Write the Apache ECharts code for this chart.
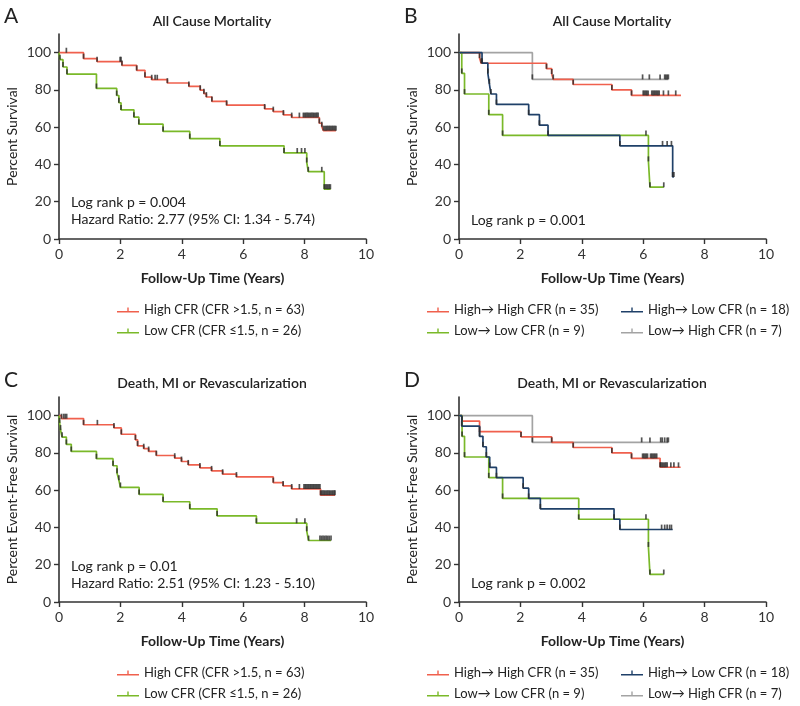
<!DOCTYPE html>
<html><head><meta charset="utf-8">
<script src="https://cdn.jsdelivr.net/npm/echarts@6/dist/echarts.min.js"></script>
<style>html,body{margin:0;padding:0;background:#fff}#c{width:800px;height:706px}</style>
</head><body><div id="c"></div>
<script>
// ---------- DATA ----------
const xTicks = [0, 2, 4, 6, 8, 10];
const yTicks = [0, 20, 40, 60, 80, 100];

const nameHigh = 'High CFR (CFR >1.5, n = 63)';
const nameLow = 'Low CFR (CFR \u22641.5, n = 26)';
const nameHH = 'High\u2192 High CFR (n = 35)';
const nameHL = 'High\u2192 Low CFR (n = 18)';
const nameLL = 'Low\u2192 Low CFR (n = 9)';
const nameLH = 'Low\u2192 High CFR (n = 7)';

// Panel A
const aHighT = [0, 0.80, 1.24, 2.05, 2.53, 2.80, 3.02, 3.53, 4.23, 4.60, 4.72, 4.80, 4.98, 5.46, 6.70, 6.98, 7.31, 7.58, 8.48, 8.56, 8.61, 9.02];
const aHighS = [100, 96.8, 95.2, 93.2, 90.5, 86.9, 85.5, 83.7, 81.9, 79.9, 78.0, 76.2, 73.8, 71.8, 69.8, 68.4, 66.6, 65.2, 62.1, 60.3, 58.2, 58.2];
const aHighC = [0.24, 1.99, 2.02, 3.13, 3.20, 7.83, 7.96, 8.00, 8.04, 8.08, 8.12, 8.16, 8.20, 8.24, 8.28, 8.32, 8.36, 8.40, 8.44, 8.66, 8.70, 8.74, 8.78, 8.82, 8.86, 8.90, 8.94, 8.98, 9.02];
const aLowT = [0, 0.03, 0.13, 0.26, 1.22, 1.88, 1.95, 2.02, 2.44, 2.60, 3.39, 4.26, 5.24, 7.33, 8.07, 8.12, 8.64, 8.85];
const aLowS = [100, 96.2, 92.3, 88.5, 80.8, 77.0, 73.1, 69.3, 65.4, 61.6, 57.7, 53.9, 50.0, 46.2, 41.1, 36.1, 26.8, 26.8];
const aLowC = [7.76, 7.90, 8.01, 8.56, 8.68, 8.72, 8.76, 8.80, 8.84];

// Panel B
const bHHT = [0, 0.67, 0.72, 2.85, 3.02, 3.07, 3.72, 4.98, 5.62, 7.23];
const bHHS = [100, 97.1, 94.3, 91.4, 88.6, 85.7, 82.9, 80.0, 77.1, 77.1];
const bHHC = [6.00, 6.04, 6.08, 6.12, 6.16, 6.28, 6.32, 6.36, 6.40, 6.44, 6.48, 6.52, 6.66, 6.82, 7.06];
const bHLT = [0, 0.75, 0.94, 0.99, 1.04, 1.22, 2.27, 2.62, 2.90, 5.24, 6.96, 7.00];
const bHLS = [100, 94.4, 88.9, 83.3, 77.8, 72.2, 66.7, 61.1, 55.6, 50.0, 33.3, 33.3];
const bHLC = [6.63, 6.78, 6.92, 7.00];
const bLLT = [0, 0.09, 0.18, 0.97, 1.42, 6.17, 6.22, 6.67];
const bLLS = [100, 88.9, 77.8, 66.7, 55.6, 41.7, 27.8, 27.8];
const bLLC = [6.09, 6.67];
const bLHT = [0, 2.39, 6.82];
const bLHS = [100, 85.7, 85.7];
const bLHC = [5.98, 6.20, 6.55, 6.70, 6.74, 6.78, 6.82];

// Panel C
const cHighT = [0, 0.08, 0.80, 1.79, 2.03, 2.49, 2.56, 2.76, 2.92, 3.17, 3.77, 3.99, 4.21, 4.59, 4.97, 5.33, 5.78, 6.98, 7.30, 7.58, 8.52, 8.99];
const cHighS = [100, 98.4, 95.1, 93.4, 90.0, 87.0, 83.8, 82.3, 80.8, 78.6, 77.2, 75.4, 73.6, 72.0, 70.4, 68.6, 67.1, 64.1, 62.3, 60.7, 57.3, 57.3];
const cHighC = [0.15, 0.20, 0.25, 1.25, 7.83, 7.98, 8.02, 8.06, 8.10, 8.14, 8.18, 8.22, 8.26, 8.30, 8.34, 8.38, 8.42, 8.46, 8.50, 8.56, 8.60, 8.64, 8.68, 8.72, 8.76, 8.80, 8.84, 8.88, 8.92, 8.96, 8.99];
const cLowT = [0, 0.02, 0.05, 0.10, 0.24, 0.40, 1.22, 1.76, 1.89, 1.95, 2.00, 2.61, 3.39, 4.26, 5.15, 6.43, 8.07, 8.13, 8.86];
const cLowS = [100, 96.2, 92.3, 88.5, 84.6, 80.8, 76.9, 73.1, 69.2, 65.4, 61.5, 57.7, 53.8, 50.0, 46.2, 42.3, 38.0, 33.0, 33.0];
const cLowC = [7.74, 8.01, 8.50, 8.55, 8.60, 8.65, 8.70, 8.75, 8.80, 8.86];

// Panel D
const dHHT = [0, 0.10, 0.67, 2.02, 3.02, 3.72, 4.98, 5.62, 6.55, 7.22];
const dHHS = [100, 97.1, 91.4, 88.6, 85.7, 82.9, 80.0, 77.1, 72.3, 72.3];
const dHHC = [5.98, 6.02, 6.06, 6.10, 6.14, 6.24, 6.28, 6.32, 6.36, 6.40, 6.44, 6.58, 6.62, 6.66, 6.70, 6.74, 6.78, 6.90, 7.00, 7.15];
const dHLT = [0, 0.09, 0.67, 0.78, 0.89, 1.00, 1.22, 2.09, 2.27, 2.65, 5.05, 5.24, 6.96];
const dHLS = [100, 94.4, 88.9, 83.3, 77.8, 72.2, 66.7, 61.1, 55.6, 50.0, 44.4, 38.9, 38.9];
const dHLC = [6.60, 6.70, 6.78, 6.86, 6.92];
const dLLT = [0, 0.10, 0.18, 0.97, 1.42, 3.90, 6.17, 6.22, 6.67];
const dLLS = [100, 88.9, 77.8, 66.7, 55.6, 44.4, 29.6, 14.8, 14.8];
const dLLC = [6.09, 6.67];
const dLHT = [0, 2.39, 6.82];
const dLHS = [100, 85.7, 85.7];
const dLHC = [5.95, 6.22, 6.57, 6.62, 6.70, 6.78, 6.82];

// ---------- STYLE ----------
const FONT = 'Lato';
const C_RED = '#F0604D', C_GREEN = '#7AB929', C_NAVY = '#1F4069', C_GRAY = '#A3A3A3';
const TICK_COLOR = '#2a2a2a';

const grids = [
  {left: 59, top: 34, width: 307, height: 205},
  {left: 459, top: 34, width: 307, height: 205},
  {left: 59, top: 397, width: 307, height: 205},
  {left: 459, top: 397, width: 307, height: 205}
];
const yNames = ['Percent Survival', 'Percent Survival', 'Percent Event-Free Survival', 'Percent Event-Free Survival'];

function stepAt(T, S, t) {
  let v = S[0];
  for (let i = 0; i < T.length; i++) { if (T[i] <= t) v = S[i]; }
  return v;
}
const series = [];
function addCurve(idx, name, T, S, C, color) {
  series.push({
    type: 'line', name: name, xAxisIndex: idx, yAxisIndex: idx, step: 'end',
    showSymbol: false, symbol: 'none', data: T.map((t, i) => [t, S[i]]),
    lineStyle: {color: color, width: 1.7}, itemStyle: {color: color}, z: 2, silent: true
  });
  const ticks = [];
  for (let i = 1; i < T.length - 1; i++) ticks.push([T[i], S[i]]);
  C.forEach(t => ticks.push([t, stepAt(T, S, t)]));
  series.push({
    type: 'scatter', xAxisIndex: idx, yAxisIndex: idx, data: ticks,
    symbol: 'rect', symbolSize: [1.7, 5], symbolOffset: [0, -2.4],
    itemStyle: {color: TICK_COLOR}, z: 3, silent: true
  });
}
addCurve(0, nameHigh, aHighT, aHighS, aHighC, C_RED);
addCurve(0, nameLow, aLowT, aLowS, aLowC, C_GREEN);
addCurve(1, nameLH, bLHT, bLHS, bLHC, C_GRAY);
addCurve(1, nameHH, bHHT, bHHS, bHHC, C_RED);
addCurve(1, nameLL, bLLT, bLLS, bLLC, C_GREEN);
addCurve(1, nameHL, bHLT, bHLS, bHLC, C_NAVY);
addCurve(2, nameHigh, cHighT, cHighS, cHighC, C_RED);
addCurve(2, nameLow, cLowT, cLowS, cLowC, C_GREEN);
addCurve(3, nameLH, dLHT, dLHS, dLHC, C_GRAY);
addCurve(3, nameHH, dHHT, dHHS, dHHC, C_RED);
addCurve(3, nameLL, dLLT, dLLS, dLLC, C_GREEN);
addCurve(3, nameHL, dHLT, dHLS, dHLC, C_NAVY);

const axisLine = {lineStyle: {color: '#333', width: 1.6}};
const xAxes = grids.map((g, i) => ({
  type: 'value', gridIndex: i, min: 0, max: 10, interval: 2,
  axisLine: axisLine, axisTick: {show: true, length: 5, lineStyle: {color: '#333', width: 1.4}},
  splitLine: {show: false},
  axisLabel: {color: '#333', fontSize: 14, fontFamily: FONT, margin: 8, customValues: xTicks},
  name: 'Follow-Up Time (Years)', nameLocation: 'middle', nameGap: 32,
  nameTextStyle: {color: '#222', fontSize: 14, fontWeight: 'bold', fontFamily: FONT}
}));
const yAxes = grids.map((g, i) => ({
  type: 'value', gridIndex: i, min: 0, max: 110,
  axisLine: {show: true, lineStyle: {color: '#333', width: 1.6}},
  axisTick: {show: true, length: 5, customValues: yTicks, lineStyle: {color: '#333', width: 1.4}},
  splitLine: {show: false},
  axisLabel: {color: '#333', fontSize: 14, fontFamily: FONT, margin: 8, customValues: yTicks},
  name: yNames[i], nameLocation: 'middle', nameGap: 40,
  nameTextStyle: {color: '#222', fontSize: 14, fontFamily: FONT}
}));

const legendIcon = 'path://M0,4.5L22,4.5L22,6L0,6Z M10.3,1L11.7,1L11.7,4.5L10.3,4.5Z';
function mkLegend(names, left, top) {
  return {
    data: names, left: left, top: top, orient: 'vertical', itemWidth: 22, itemHeight: 5,
    itemGap: 5, icon: legendIcon, selectedMode: false, padding: 0, height: 45,
    textStyle: {color: '#222', fontSize: 13, fontFamily: FONT, lineHeight: 16}
  };
}
const legends = [
  mkLegend([nameHigh, nameLow], 117, 302),
  mkLegend([nameHH, nameLL], 427, 302),
  mkLegend([nameHL, nameLH], 621, 302),
  mkLegend([nameHigh, nameLow], 117, 665),
  mkLegend([nameHH, nameLL], 427, 665),
  mkLegend([nameHL, nameLH], 621, 665)
];

function txt(x, y, s, size, weight, align) {
  return {type: 'text', x: x, y: y, silent: true,
    style: {text: s, fill: '#222', font: (weight || 'normal') + ' ' + size + 'px ' + FONT,
      textAlign: align || 'left', textVerticalAlign: 'middle'}};
}
const graphics = [
  txt(4, 16, 'A', 21), txt(212, 21, 'All Cause Mortality', 14, '600', 'center'),
  txt(404, 16, 'B', 21), txt(612, 21, 'All Cause Mortality', 14, '600', 'center'),
  txt(4, 380, 'C', 21), txt(212, 383, 'Death, MI or Revascularization', 14, '600', 'center'),
  txt(404, 380, 'D', 21), txt(612, 383, 'Death, MI or Revascularization', 14, '600', 'center'),
  txt(71, 202, 'Log rank p = 0.004', 14), txt(71, 219, 'Hazard Ratio: 2.77 (95% CI: 1.34 - 5.74)', 14),
  txt(471, 220, 'Log rank p = 0.001', 14),
  txt(71, 566, 'Log rank p = 0.01', 14), txt(71, 583, 'Hazard Ratio: 2.51 (95% CI: 1.23 - 5.10)', 14),
  txt(471, 583, 'Log rank p = 0.002', 14)
];

const chart = echarts.init(document.getElementById('c'), null, {renderer: 'canvas'});
chart.setOption({
  animation: false, backgroundColor: '#fff',
  grid: grids, xAxis: xAxes, yAxis: yAxes, series: series, legend: legends, graphic: graphics
});
</script></body></html>
